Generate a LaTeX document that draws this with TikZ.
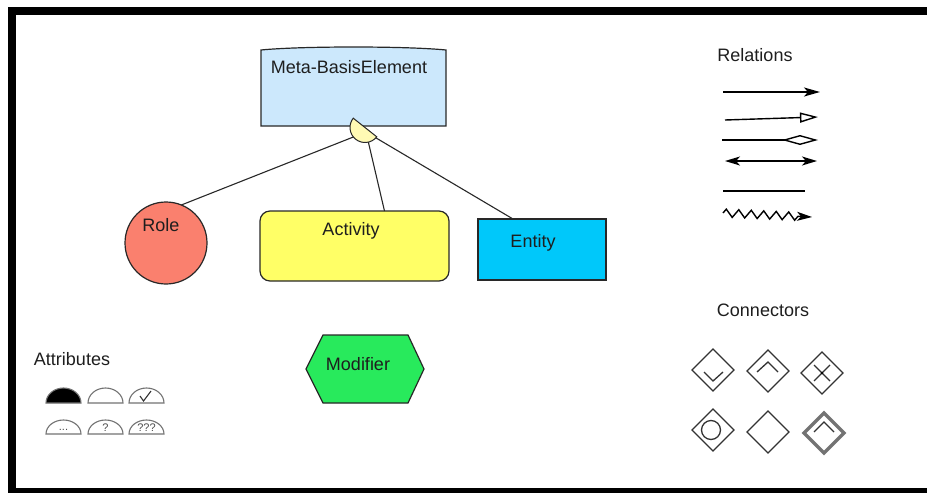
\documentclass[tikz,border=0pt]{standalone}
\usepackage{fontspec}
\setmainfont{Liberation Sans}
\usetikzlibrary{arrows.meta,calc,shapes.geometric,decorations.pathmorphing}

\definecolor{metafill}{RGB}{204,232,252}
\definecolor{rolefill}{RGB}{250,128,110}
\definecolor{actfill}{RGB}{255,255,102}
\definecolor{entfill}{RGB}{0,200,250}
\definecolor{modfill}{RGB}{40,234,92}
\definecolor{attrfill}{RGB}{255,250,180}
\definecolor{edgecol}{RGB}{40,40,40}
\definecolor{txtcol}{RGB}{30,30,30}

\begin{document}
\begin{tikzpicture}[x=1pt,y=-1pt,
  every node/.style={inner sep=0pt, outer sep=0pt},
  txt/.style={text=txtcol, font=\fontsize{18}{21}\selectfont, text height=12.9pt, text depth=0pt},
  small/.style={text=black!70, font=\fontsize{11}{13}\selectfont},
  outline/.style={draw=edgecol, line width=1.2pt},
  link/.style={draw=edgecol, line width=1.1pt},
  rel/.style={draw=black, line width=1.4pt},
  conn/.style={draw=black!80, line width=1.3pt},
  gate/.style={diamond, draw=black!80, line width=1.3pt, minimum size=42pt},
  attr/.style={draw=black!55, line width=1.1pt},
]
\useasboundingbox (0,0) rectangle (927,493);

% page frame
\fill[black] (8,7) rectangle (940,493);
\fill[white] (16,15) rectangle (940,488);

% ---------- main elements ----------
\node[minimum width=185pt, minimum height=76pt] (meta) at (353.5,88) {};
\node[circle, outline, fill=rolefill, minimum size=82pt] (role) at (166,243) {};
\node[rectangle, rounded corners=10pt, outline, fill=actfill,
      minimum width=189pt, minimum height=70pt] (act) at (354.5,246) {};
\node[rectangle, outline, fill=entfill,
      minimum width=128pt, minimum height=61pt] (ent) at (542,249.5) {};
\node[minimum width=118pt, minimum height=68pt] (mod) at (365,369) {};

% base element with its slightly arched top
\path[outline, fill=metafill] (meta.south west) -- (meta.north west)
  .. controls +(40,-4) and +(-40,-4) .. (meta.north east)
  -- (meta.south east) -- cycle;

% modifier hexagon
\path[outline, fill=modfill] (mod.west)
  -- ($(mod.north west)+(17,0)$) -- ($(mod.north east)+(-16,0)$)
  -- (mod.east)
  -- ($(mod.south east)+(-16,0)$) -- ($(mod.south west)+(17,0)$) -- cycle;

% specialisation links
\coordinate (hub) at (366,132);
\draw[link] (hub) -- (role.68);
\draw[link] (hub) -- ($(act.north)+(30,0)$);
\draw[link] (hub) -- ($(ent.north west)+(35,0)$);

% attribute marker on the base element
\begin{scope}[shift={(365,127.5)}, rotate=-38.4]
  \path[draw=edgecol, line width=1pt, fill=attrfill]
    (-15pt,0pt) arc[start angle=180, end angle=360, radius=15pt] -- cycle;
\end{scope}

% labels
\node[txt] (metatxt) at (349,67.5) {Meta-BasisElement};
\node[txt] (roletxt) at (161,225.5) {Role};
\node[txt] (acttxt)  at (351,229.5) {Activity};
\node[txt] (enttxt)  at (533,241) {Entity};
\node[txt] (modtxt)  at (358,364.5) {Modifier};

% ---------- relations legend ----------
\node[txt] (reltitle) at (755,55) {Relations};
\coordinate (r1a) at (723,92);  \coordinate (r1b) at (820,92);
\coordinate (r2a) at (725,120); \coordinate (r2b) at (818,117);
\coordinate (r3a) at (722,140); \coordinate (r3b) at (818,140);
\coordinate (r4a) at (725,161); \coordinate (r4b) at (817,161);
\coordinate (r5a) at (723,191); \coordinate (r5b) at (805,191);
\coordinate (r6a) at (723,213); \coordinate (r6b) at (812,217);
\draw[rel, -{Stealth[length=16pt, width=9pt, inset=4pt]}] (r1a) -- (r1b);
\draw[rel, -{Triangle[open, fill=white, length=18pt, width=10pt]}] (r2a) -- (r2b);
\draw[rel, -{Diamond[open, fill=white, length=36pt, width=10pt]}] (r3a) -- (r3b);
\draw[rel, {Stealth[length=15pt, width=9pt, inset=4pt]}-{Stealth[length=15pt, width=9pt, inset=4pt]}] (r4a) -- (r4b);
\draw[rel] (r5a) -- (r5b);
\draw[rel, -{Stealth[length=15pt, width=9pt, inset=4pt]},
      decorate, decoration={zigzag, segment length=12.5pt, amplitude=4pt, post length=14pt}]
  (r6a) -- (r6b);

% ---------- connectors legend ----------
\node[txt] (conntitle) at (763,310) {Connectors};
\node[gate] (c1) at (713,370) {};
\node[gate] (c2) at (768,371) {};
\node[gate] (c3) at (822,373) {};
\node[gate] (c4) at (713,430) {};
\node[gate] (c5) at (768,432) {};
\node[gate, draw=black!55, line width=3.5pt, minimum size=40pt] (c6) at (824,433) {};
\draw[conn] ($(c1)+(-9,2)$) -- ($(c1)+(0,11)$) -- ($(c1)+(10,2)$);
\draw[conn] ($(c2)+(-11,1)$) -- ($(c2)+(0,-9)$) -- ($(c2)+(10,1)$);
\draw[conn] ($(c3)+(-8,-8)$) -- ($(c3)+(8,8)$);
\draw[conn] ($(c3)+(-8,8)$) -- ($(c3)+(8,-8)$);
\fill[black] (c3) circle[radius=1.3pt];
\draw[conn] ($(c4)+(-2,0)$) circle[radius=9.5pt];
\draw[conn] ($(c6)+(-10,-1)$) -- ($(c6)+(0,-11)$) -- ($(c6)+(10,-1)$);

% ---------- attributes legend ----------
\node[txt] (attrtitle) at (72,359) {Attributes};
\path[attr, fill=black] (46,403) arc[start angle=180, end angle=0, x radius=17.5pt, y radius=15pt] -- cycle;
\path[attr] (88,403) arc[start angle=180, end angle=0, x radius=17.5pt, y radius=15pt] -- cycle;
\path[attr] (129,403) arc[start angle=180, end angle=0, x radius=17.5pt, y radius=15pt] -- cycle;
\draw[black!80, line width=1.1pt] (140,396) -- (143.5,401) -- (151,391);
\path[attr] (46,434) arc[start angle=180, end angle=0, x radius=17.5pt, y radius=14pt] -- cycle;
\path[attr] (88,434) arc[start angle=180, end angle=0, x radius=17.5pt, y radius=14pt] -- cycle;
\path[attr] (129,434) arc[start angle=180, end angle=0, x radius=17.5pt, y radius=14pt] -- cycle;
\node[small] (dots) at (63.5,429.5) {...};
\node[small] (q1) at (105.5,427.5) {?};
\node[small] (q3) at (146.5,427.5) {???};
\end{tikzpicture}
\end{document}
